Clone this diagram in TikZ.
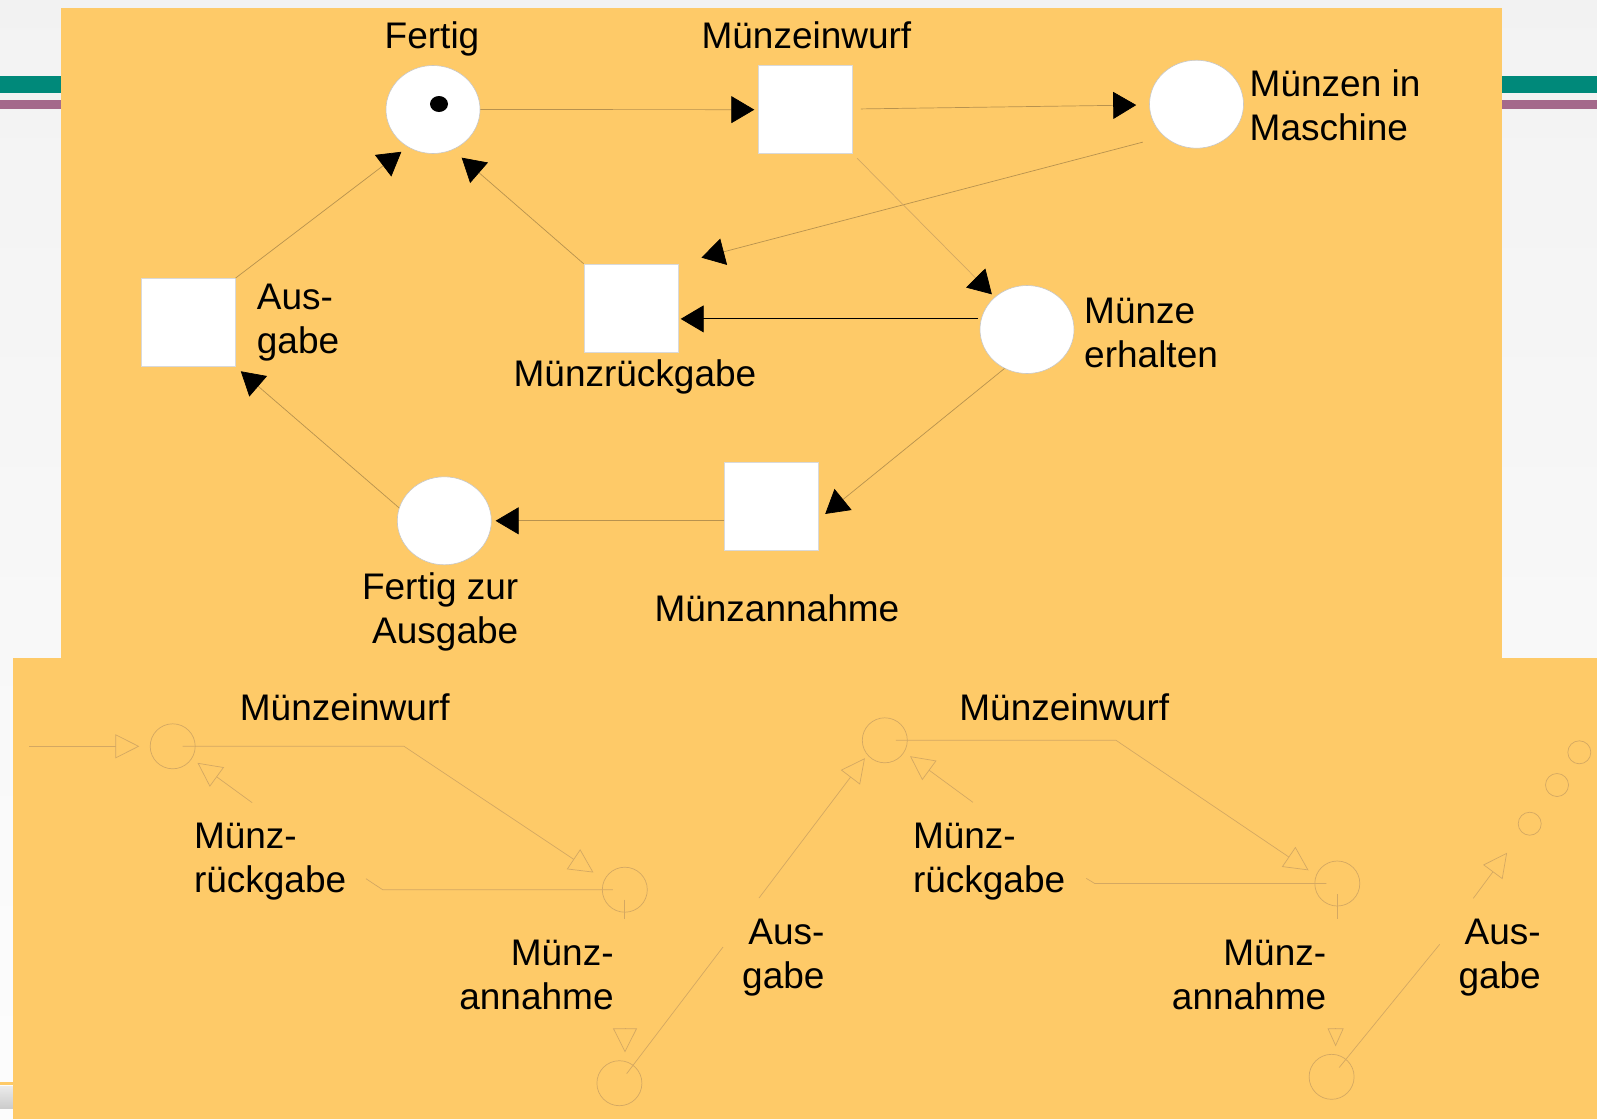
\documentclass[tikz,border=0pt]{standalone}
\usepackage{fontspec}
\setmainfont{Liberation Sans}
\usetikzlibrary{arrows.meta,shapes.geometric}

\definecolor{panel}{RGB}{254,202,104}
\definecolor{arcbrown}{RGB}{184,146,78}
\definecolor{faint}{RGB}{212,168,98}
\definecolor{barteal}{RGB}{0,137,122}
\definecolor{barmauve}{RGB}{164,105,139}

\tikzset{
  place/.style={ellipse,draw=black!22,line width=0.6pt,fill=white,
    minimum width=94pt,minimum height=88pt,inner sep=0pt},
  transition/.style={rectangle,draw=black!15,line width=0.6pt,fill=white,
    minimum width=94pt,minimum height=88pt,inner sep=0pt},
  token/.style={ellipse,fill=black,minimum width=18pt,minimum height=16pt,inner sep=0pt},
  lbl/.style={inner sep=0pt,font=\fontsize{37}{44}\selectfont},
  flow/.style={draw=arcbrown,line width=0.7pt,-{Triangle[length=23pt,width=27pt,color=black]}},
  ghostplace/.style={circle,draw=faint,line width=0.7pt,minimum size=45pt,inner sep=0pt},
  ghostdot/.style={ghostplace,minimum size=23pt},
  ghost/.style={draw=faint,line width=0.7pt},
  ghostarc/.style={ghost,-{Triangle[open,length=24pt,width=24pt]}},
  ghosttip/.style={ghost,-{Triangle[open,length=18pt,width=16pt]}}
}

\begin{document}
\begin{tikzpicture}[x=1pt,y=-1pt]
\useasboundingbox (0,0) rectangle (1597,1119);
% slide background
\shade[top color=black!5,bottom color=black!1] (0,0) rectangle (1597,1119);
\fill[barteal] (0,76) rectangle (1597,92.7);
\fill[barmauve] (0,100) rectangle (1597,108.7);
\fill[panel] (0,1082.3) rectangle (13,1085);
\shade[top color=black!8,bottom color=black!20] (0,1086) rectangle (13,1108);
\fill[panel] (61,8) rectangle (1502,658);
\fill[panel] (13,658) rectangle (1597,1119);

% upper net
\node[place] (fertig) at (433,109.5) {};
\node[token] (tok) at (439,104) {};
\node[transition] (einwurf) at (805.6,109.7) {};
\node[place] (maschine) at (1196.5,104.2) {};
\node[transition] (ausgabe) at (188.2,322.4) {};
\node[transition] (rueckgabe) at (630.9,308) {};
\node[place] (erhalten) at (1027,329.5) {};
\node[place] (bereit) at (444.3,520.8) {};
\node[transition] (annahme) at (771.7,506.3) {};

\node[lbl,anchor=base] (tFertig) at (432,48.3) {Fertig};
\node[lbl,anchor=base] (tEinwurf) at (806.4,48.3) {Münzeinwurf};
\node[lbl,anchor=base west,align=left] (tMaschine) at (1249.5,140.5) {Münzen in\\Maschine};
\node[lbl,anchor=base west,align=left] (tAusgabe) at (256.7,353.5) {Aus-\\gabe};
\node[lbl,anchor=base west] (tRueckgabe) at (513.4,386.7) {Münzrückgabe};
\node[lbl,anchor=base west,align=left] (tErhalten) at (1084,367.7) {Münze\\erhalten};
\node[lbl,anchor=base east,align=right] (tBereit) at (518.5,643.5) {Fertig zur\\Ausgabe};
\node[lbl,anchor=base west] (tAnnahme) at (654.3,621.7) {Münzannahme};

\draw[flow,shorten >=4pt] (fertig) -- (einwurf);
\draw[flow,shorten <=8pt,shorten >=13pt] (einwurf) -- (maschine);
\draw[flow,shorten <=22pt,shorten >=24pt] (maschine.225) -- (rueckgabe.north east);
\draw[flow,draw=faint,shorten <=6pt,shorten >=4pt] (einwurf.south east) -- (erhalten.135);
\draw[black,line width=0.9pt,-{Triangle[length=23pt,width=27pt]},shorten <=3pt,shorten >=2.5pt]
  (erhalten.167) -- (erhalten.167 -| rueckgabe.east);
\draw[flow,shorten >=12pt] (rueckgabe.north west) -- (fertig.-64);
\draw[flow,shorten >=8pt] (ausgabe.north east) -- (fertig.236);
\draw[flow,shorten >=7pt] (bereit.164) -- (ausgabe.south east);
\draw[flow,shorten >=4pt] (bereit.east -| annahme.west) -- (bereit.east);
\draw[flow,shorten >=8pt] (erhalten.240) -- (annahme.-15);

% faded copies below
\node[ghostplace] (g1) at (172.7,746.3) {};
\node[ghostplace] (g2) at (624.8,889.7) {};
\node[ghostplace] (g3) at (619.4,1083.2) {};
\node[ghostplace] (g4) at (884.8,740.3) {};
\node[ghostplace] (g5) at (1337.3,883.5) {};
\node[ghostplace] (g6) at (1331.6,1076.8) {};
\node[ghostdot] (k1) at (1529.7,823.7) {};
\node[ghostdot] (k2) at (1557,785) {};
\node[ghostdot] (k3) at (1579.3,752.3) {};

\node[lbl,anchor=base west] (tEinwurfA) at (239.7,720.7) {Münzeinwurf};
\node[lbl,anchor=base west,align=left] (tRueckA) at (193.8,892) {Münz-\\rückgabe};
\node[lbl,anchor=base east,align=right] (tAnnA) at (613.8,1009.5) {Münz-\\annahme};
\node[lbl,anchor=base east,align=right] (tAusA) at (824.7,988.3) {Aus-\\gabe};
\node[lbl,anchor=base west] (tEinwurfB) at (959.2,720.7) {Münzeinwurf};
\node[lbl,anchor=base west,align=left] (tRueckB) at (912.8,892) {Münz-\\rückgabe};
\node[lbl,anchor=base east,align=right] (tAnnB) at (1326.4,1009.5) {Münz-\\annahme};
\node[lbl,anchor=base east,align=right] (tAusB) at (1541,988.3) {Aus-\\gabe};

\coordinate (in1) at (29,746.3);
\coordinate (rg1) at (366,878.7);
\coordinate (rg1b) at (252.2,802.7);
\coordinate (t1) at (624.8,919.3);
\coordinate (a1) at (625,1028);
\coordinate (ag1) at (723,947);
\coordinate (ag1b) at (759,898);
\coordinate (rg2) at (1086.2,878.3);
\coordinate (rg2b) at (972.9,802.3);
\coordinate (t2) at (1337.3,919.3);
\coordinate (a2) at (1335.6,1028.3);
\coordinate (ag2) at (1439.7,944.3);
\coordinate (ag2b) at (1473.3,898.3);

\draw[ghostarc,shorten >=10.5pt] (in1) -- (g1);
\draw[ghostarc,shorten <=10pt,shorten >=13pt] (g1.center) -- ++(231.3,0) -- (g2.154);
\draw[ghostarc,shorten >=7pt] (rg1b) -- (g1.-33);
\draw[ghost,shorten <=12pt] (g2.center) -- ++(-242.2,0) -- (rg1);
\draw[ghost,shorten <=10pt] (g2.center) -- (t1);
\draw[ghostarc,shorten >=8pt] (a1) -- (a1 |- g3.north);
\draw[ghost,shorten <=12pt] (g3.center) -- (ag1);
\draw[ghostarc,shorten >=4pt] (ag1b) -- (g4.220);
\draw[ghostarc,shorten <=11pt,shorten >=9pt] (g4.center) -- ++(231.2,0) -- (g5.159);
\draw[ghostarc,shorten >=7pt] (rg2b) -- (g4.-31);
\draw[ghost,shorten <=11pt] (g5.center) -- ++(-242.6,0) -- (rg2);
\draw[ghost,shorten <=10.5pt] (g5.center) -- (t2);
\draw[ghosttip,shorten >=7.6pt] (a2) -- (a2 |- g6.north);
\draw[ghost,shorten <=12pt] (g6.center) -- (ag2);
\draw[ghostarc,shorten >=25pt] (ag2b) -- (k1.229);
\end{tikzpicture}
\end{document}
